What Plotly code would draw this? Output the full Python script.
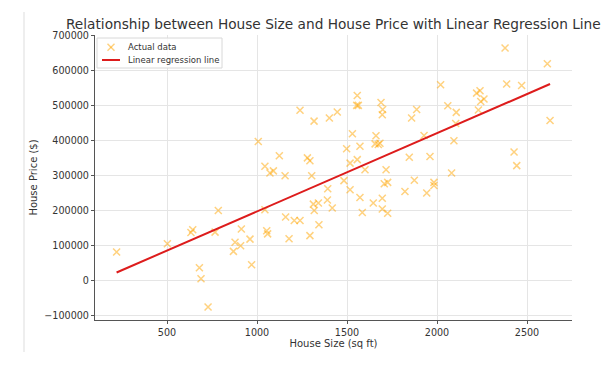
import plotly.graph_objects as go

house_size = [220, 502, 633, 643, 785, 767, 878, 869, 909, 913, 961, 970, 680, 689, 728,
              1054, 1059, 1044, 1159, 1178, 1207, 1239, 1294, 1313, 1341, 1318, 1344, 1393,
              1391, 1418, 1483, 1517, 1572, 1585, 1646, 1696, 1696, 1726, 1707, 1726, 1822,
              1874, 1943, 1007, 1044, 1072, 1091, 1124, 1156, 1239, 1280, 1294, 1304, 1317,
              1402, 1446, 1498, 1517, 1530, 1557, 1554, 1563, 1557, 1572, 1600, 1661, 1656,
              1674, 1683, 1689, 1698, 1696, 1717, 1846, 1859, 1887, 1928, 1961, 2378, 2613,
              2020, 2387, 2470, 2220, 2239, 2261, 2243, 2230, 2060, 2107, 2104, 2094, 2628,
              2428, 2443, 2081, 1983, 1983]
house_price = [82000, 106000, 138000, 146000, 201000, 139000, 110000, 84000, 100000, 148000,
               119000, 46000, 37000, 6000, -75000, 143000, 134000, 203000, 182000, 120000,
               172000, 172000, 129000, 219000, 222000, 201000, 160000, 263000, 231000, 208000,
               286000, 260000, 238000, 195000, 222000, 236000, 205000, 193000, 277000, 281000,
               255000, 287000, 251000, 398000, 327000, 308000, 314000, 357000, 300000, 487000,
               351000, 343000, 300000, 456000, 465000, 482000, 377000, 336000, 420000, 529000,
               501000, 501000, 346000, 384000, 317000, 414000, 391000, 389000, 393000, 509000,
               489000, 474000, 317000, 353000, 465000, 489000, 415000, 355000, 665000, 620000,
               560000, 562000, 558000, 536000, 543000, 519000, 512000, 488000, 500000, 481000,
               449000, 400000, 458000, 368000, 329000, 308000, 281000, 272000]

reg_size = [220, 2628]
reg_price = [23700, 562000]

y_ticks = [-100000, 0, 100000, 200000, 300000, 400000, 500000, 600000, 700000]
x_ticks = [500, 1000, 1500, 2000, 2500]

legend_labels = ["Actual data", "Linear regression line"]

FONT = "DejaVu Sans"
W, H = 615, 367
ML, MR, MT, MB = 95, 43, 35, 47
PW, PH = W - ML - MR, H - MT - MB
MARK_COLOR = "rgba(255,165,0,0.5)"
LINE_COLOR = "#dd1c1c"


def px(xp):
    return (xp - ML) / PW


def py(yp):
    return (H - MB - yp) / PH


fig = go.Figure()
fig.add_trace(go.Scatter(
    x=house_size, y=house_price, mode="markers", name=legend_labels[0],
    marker=dict(symbol="x-thin", size=7, color=MARK_COLOR,
                line=dict(width=1.5, color=MARK_COLOR)),
))
fig.add_trace(go.Scatter(
    x=reg_size, y=reg_price, mode="lines", name=legend_labels[1],
    line=dict(color=LINE_COLOR, width=2),
))

# compact legend box (matplotlib style)
shapes = [
    dict(type="rect", xref="paper", yref="paper", x0=px(97), x1=px(222), y0=py(68), y1=py(38),
         line=dict(color="#d8d8d8", width=1), fillcolor="rgba(255,255,255,0.85)", layer="above"),
    dict(type="line", xref="paper", yref="paper", x0=px(107.5), x1=px(114.5), y0=py(43.8), y1=py(50.8),
         line=dict(color=MARK_COLOR, width=1.5), layer="above"),
    dict(type="line", xref="paper", yref="paper", x0=px(107.5), x1=px(114.5), y0=py(50.8), y1=py(43.8),
         line=dict(color=MARK_COLOR, width=1.5), layer="above"),
    dict(type="line", xref="paper", yref="paper", x0=px(102), x1=px(120), y0=py(60), y1=py(60),
         line=dict(color=LINE_COLOR, width=2), layer="above"),
    dict(type="line", xref="paper", yref="paper", x0=px(24), x1=px(24), y0=py(352), y1=py(12),
         line=dict(color="#dddddd", width=1)),
]
annotations = [
    dict(text=legend_labels[0], xref="paper", yref="paper", x=px(126), y=py(47.3),
         xanchor="left", yanchor="middle", showarrow=False,
         font=dict(family=FONT, size=8.5, color="#333333")),
    dict(text=legend_labels[1], xref="paper", yref="paper", x=px(126), y=py(60.3),
         xanchor="left", yanchor="middle", showarrow=False,
         font=dict(family=FONT, size=8.5, color="#333333")),
]

fig.update_layout(
    width=W, height=H,
    margin=dict(l=ML, r=MR, t=MT, b=MB, autoexpand=False),
    paper_bgcolor="white", plot_bgcolor="white",
    font=dict(family=FONT, size=9.6, color="#333333"),
    title=dict(text="Relationship between House Size and House Price with Linear Regression Line",
               x=0.542, xanchor="center", y=0.935, yanchor="middle",
               font=dict(family=FONT, size=13.7, color="#333333")),
    showlegend=False,
    xaxis=dict(range=[100, 2750], tickvals=x_ticks, showgrid=True, gridcolor="#e5e5e5",
               gridwidth=1, zeroline=False, showline=True, linecolor="#555555", linewidth=1.2,
               ticks="outside", ticklen=3, tickcolor="#555555", automargin=True,
               title=dict(text="House Size (sq ft)", standoff=2, font=dict(size=10))),
    yaxis=dict(range=[-112000, 702000], tickvals=y_ticks, tickformat="d",
               showgrid=True, gridcolor="#e5e5e5",
               gridwidth=1, zeroline=False, showline=True, linecolor="#555555", linewidth=1.2,
               ticks="outside", ticklen=3, tickcolor="#555555", automargin=True,
               title=dict(text="House Price ($)", standoff=4, font=dict(size=10))),
    shapes=shapes,
    annotations=annotations,
)

fig.write_html("out.html", config={"displayModeBar": False},
               post_script="document.body.style.margin='0';")
